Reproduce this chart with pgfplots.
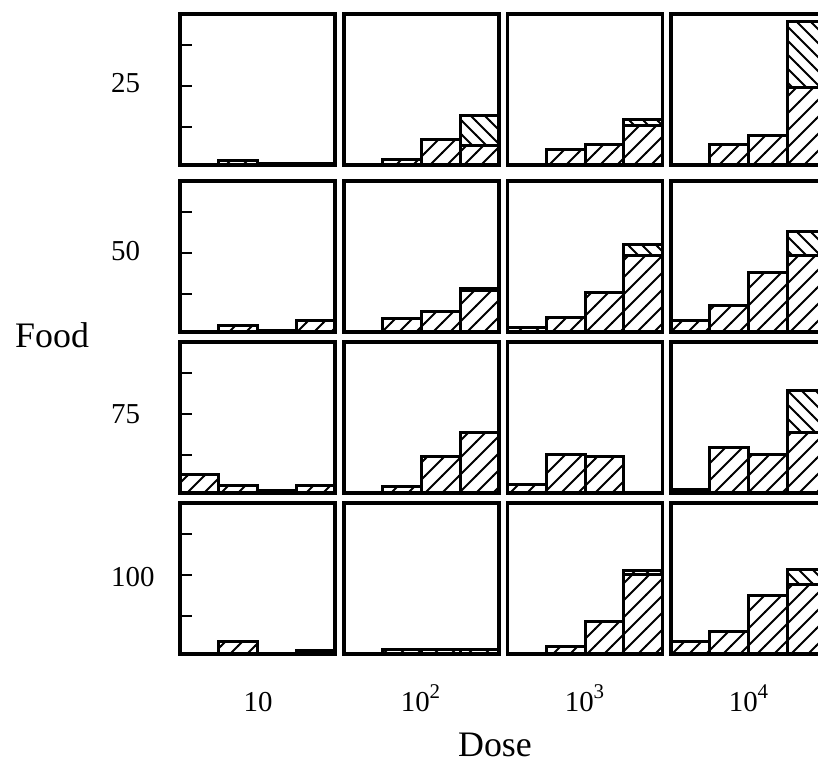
\documentclass[border=0pt]{standalone}
\usepackage{pgfplots}
\pgfplotsset{compat=1.18}
\usepackage{fontspec}
\setmainfont{Liberation Serif}
\usetikzlibrary{patterns}

\pgfdeclarepatternformonly{hatchNE}{\pgfqpoint{-1bp}{-1bp}}{\pgfqpoint{18bp}{18bp}}{\pgfqpoint{17bp}{17bp}}{%
  \pgfsetlinewidth{2bp}%
  \pgfpathmoveto{\pgfqpoint{-0.5bp}{-0.5bp}}%
  \pgfpathlineto{\pgfqpoint{17.5bp}{17.5bp}}%
  \pgfusepath{stroke}}
\pgfdeclarepatternformonly{hatchNW}{\pgfqpoint{-1bp}{-1bp}}{\pgfqpoint{15bp}{15bp}}{\pgfqpoint{14bp}{14bp}}{%
  \pgfsetlinewidth{2bp}%
  \pgfpathmoveto{\pgfqpoint{-0.5bp}{14.5bp}}%
  \pgfpathlineto{\pgfqpoint{14.5bp}{-0.5bp}}%
  \pgfusepath{stroke}}

\pgfplotsset{
  panel/.style={
    anchor=south west,
    scale only axis,
    width=155bp, height=151bp,
    xmin=0, xmax=4, ymin=0, ymax=151,
    xtick=\empty, ytick=\empty,
    axis on top,
    axis line style={line width=3.6bp},
    ybar stacked, bar width=1,
    clip=false,
  },
  firstcol/.style={
    ytick={38,79,120}, yticklabels={},
    ytick pos=left, tick align=inside,
    major tick length=12bp,
    every tick/.style={line width=2.6bp, black},
  },
  lower/.style={draw=black, line width=3bp, pattern=hatchNE},
  upper/.style={draw=black, line width=3bp, pattern=hatchNW},
}

\newcommand\panel[5]{%
  \begin{axis}[panel, at={(#1bp,#2bp)}, #5]
    \addplot[lower] coordinates {#3};
    \addplot[upper] coordinates {#4};
  \end{axis}}

\begin{document}
\begin{tikzpicture}[x=1bp,y=1bp]
\path[use as bounding box, clip] (0,0) rectangle (818,765);

% Row 1: Food 25
\panel{180}{600}{(0.5,0) (1.5,4) (2.5,1.5) (3.5,1.5)}{(0.5,0) (1.5,0) (2.5,0) (3.5,0)}{firstcol}
\panel{344}{600}{(0.5,0) (1.5,5) (2.5,25) (3.5,19)}{(0.5,0) (1.5,0) (2.5,0) (3.5,30)}{}
\panel{507.5}{600}{(0.5,0) (1.5,15) (2.5,20) (3.5,39)}{(0.5,0) (1.5,0) (2.5,0) (3.5,6)}{}
\panel{671}{600}{(0.5,0) (1.5,20) (2.5,29) (3.5,77)}{(0.5,0) (1.5,0) (2.5,0) (3.5,66)}{}

% Row 2: Food 50
\panel{180}{433}{(0.5,0) (1.5,6) (2.5,1) (3.5,11)}{(0.5,0) (1.5,0) (2.5,0) (3.5,0)}{firstcol}
\panel{344}{433}{(0.5,0) (1.5,13) (2.5,20) (3.5,41)}{(0.5,0) (1.5,0) (2.5,0) (3.5,2)}{}
\panel{507.5}{433}{(0.5,4) (1.5,14) (2.5,39) (3.5,76)}{(0.5,0) (1.5,0) (2.5,0) (3.5,11)}{}
\panel{671}{433}{(0.5,11) (1.5,26) (2.5,59) (3.5,76)}{(0.5,0) (1.5,0) (2.5,0) (3.5,24)}{}

% Row 3: Food 75
\panel{180}{272}{(0.5,18) (1.5,7) (2.5,2) (3.5,7)}{(0.5,0) (1.5,0) (2.5,0) (3.5,0)}{firstcol}
\panel{344}{272}{(0.5,0) (1.5,6) (2.5,36) (3.5,60)}{(0.5,0) (1.5,0) (2.5,0) (3.5,0)}{}
\panel{507.5}{272}{(0.5,8) (1.5,38) (2.5,36) (3.5,0)}{(0.5,0) (1.5,0) (2.5,0) (3.5,0)}{}
\panel{671}{272}{(0.5,3) (1.5,45) (2.5,38) (3.5,60)}{(0.5,0) (1.5,0) (2.5,0) (3.5,42)}{}

% Row 4: Food 100
\panel{180}{111}{(0.5,0) (1.5,12) (2.5,0) (3.5,3)}{(0.5,0) (1.5,0) (2.5,0) (3.5,0)}{firstcol}
\panel{344}{111}{(0.5,0) (1.5,4) (2.5,4) (3.5,4)}{(0.5,0) (1.5,0) (2.5,0) (3.5,0)}{}
\panel{507.5}{111}{(0.5,0) (1.5,7) (2.5,32) (3.5,79)}{(0.5,0) (1.5,0) (2.5,0) (3.5,4)}{}
\panel{671}{111}{(0.5,12) (1.5,22) (2.5,58) (3.5,69)}{(0.5,0) (1.5,0) (2.5,0) (3.5,15)}{}

% Labels
\fontsize{29}{33}\selectfont
\node[anchor=base west, inner sep=0] at (111,672) {25};
\node[anchor=base west, inner sep=0] at (111,504) {50};
\node[anchor=base west, inner sep=0] at (111,341) {75};
\node[anchor=base west, inner sep=0] at (111,178) {100};

\node[anchor=base, inner sep=0] at (258,53) {10};
\node[anchor=base, inner sep=0] at (420.5,53) {10\raisebox{0.45em}{\fontsize{21}{21}\selectfont 2}};
\node[anchor=base, inner sep=0] at (584.5,53) {10\raisebox{0.45em}{\fontsize{21}{21}\selectfont 3}};
\node[anchor=base, inner sep=0] at (748.5,53) {10\raisebox{0.45em}{\fontsize{21}{21}\selectfont 4}};

\node[anchor=base, inner sep=0, font=\fontsize{36}{40}\selectfont] at (495,8) {Dose};
\node[anchor=base west, inner sep=0, font=\fontsize{36}{40}\selectfont] at (15,417) {Food};
\end{tikzpicture}
\end{document}
